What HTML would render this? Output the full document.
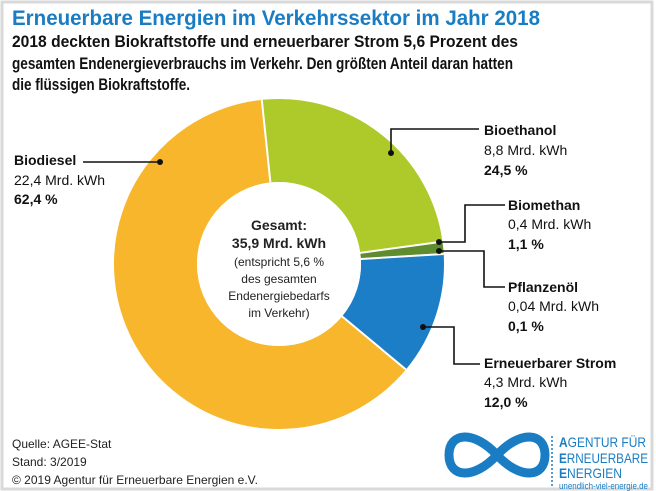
<!DOCTYPE html>
<html><head><meta charset="utf-8"><style>
html,body{margin:0;padding:0;background:#fff}
svg{display:block}
text{font-family:"Liberation Sans",sans-serif}
</style></head><body>
<svg width="656" height="491" viewBox="0 0 656 491" xmlns="http://www.w3.org/2000/svg">
<rect x="0" y="0" width="656" height="491" fill="#fff"/>
<rect x="2" y="2" width="650" height="487" fill="none" stroke="#d9d9d9" stroke-width="3"/>
<text x="12" y="25" font-size="21" font-weight="bold" fill="#1a7dc3" textLength="528" lengthAdjust="spacingAndGlyphs">Erneuerbare Energien im Verkehrssektor im Jahr 2018</text>
<g font-size="17" font-weight="bold" fill="#111">
<text x="12" y="47" textLength="506" lengthAdjust="spacingAndGlyphs">2018 deckten Biokraftstoffe und erneuerbarer Strom 5,6 Prozent des</text>
<text x="12" y="69" textLength="501" lengthAdjust="spacingAndGlyphs">gesamten Endenergieverbrauchs im Verkehr. Den größten Anteil daran hatten</text>
<text x="12" y="90" textLength="178" lengthAdjust="spacingAndGlyphs">die flüssigen Biokraftstoffe.</text>
</g>
<g fill="none" stroke-width="83">
<circle cx="279" cy="264" r="123.5" stroke="#f7b62b" stroke-dasharray="486 2000" transform="rotate(39.72 279 264)"/>
<circle cx="279" cy="264" r="123.5" stroke="#aec92a" stroke-dasharray="190.1 2000" transform="rotate(-96 279 264)"/>
<circle cx="279" cy="264" r="123.5" stroke="#5e8c2e" stroke-dasharray="8.6 2000" transform="rotate(-7.8 279 264)"/>
<circle cx="279" cy="264" r="123.5" stroke="#5e8c2e" stroke-dasharray="0.8 2000" transform="rotate(-3.84 279 264)"/>
<circle cx="279" cy="264" r="123.5" stroke="#1c7ec6" stroke-dasharray="93.1 2000" transform="rotate(-3.48 279 264)"/>
</g>
<g stroke="#fff" stroke-width="2">
<line x1="270.4" y1="182.4" x2="261.8" y2="99.9"/>
<line x1="360.2" y1="252.9" x2="442.5" y2="241.6"/>
<line x1="360.9" y1="259.0" x2="443.7" y2="254.0"/>
<line x1="342.1" y1="316.4" x2="405.9" y2="369.5"/>
</g>
<circle cx="279" cy="264" r="82" fill="#fff"/>
<g text-anchor="middle" fill="#222">
<text x="279" y="230" font-size="14" font-weight="bold">Gesamt:</text>
<text x="279" y="248" font-size="14" font-weight="bold">35,9 Mrd. kWh</text>
<text x="279" y="266" font-size="12">(entspricht 5,6 %</text>
<text x="279" y="283" font-size="12">des gesamten</text>
<text x="279" y="300" font-size="12">Endenergiebedarfs</text>
<text x="279" y="317" font-size="12">im Verkehr)</text>
</g>
<g stroke="#111" stroke-width="1.6" fill="none">
<polyline points="83,162 160,162"/>
<polyline points="479,129 391,129 391,153"/>
<polyline points="505,205 465,205 465,242 439,242"/>
<polyline points="505,287 484,287 484,251 439,251"/>
<polyline points="480,364 454,364 454,327 423,327"/>
</g>
<g fill="#111">
<circle cx="160" cy="162" r="3"/><circle cx="391" cy="153" r="3"/>
<circle cx="439" cy="242" r="3"/><circle cx="439" cy="251" r="3"/><circle cx="423" cy="327" r="3"/>
</g>
<g fill="#111" font-size="14">
<text x="14" y="165" font-weight="bold">Biodiesel</text>
<text x="14" y="185">22,4 Mrd. kWh</text>
<text x="14" y="204" font-weight="bold">62,4 %</text>
<text x="484" y="135" font-weight="bold">Bioethanol</text>
<text x="484" y="155">8,8 Mrd. kWh</text>
<text x="484" y="175" font-weight="bold">24,5 %</text>
<text x="508" y="210" font-weight="bold">Biomethan</text>
<text x="508" y="229">0,4 Mrd. kWh</text>
<text x="508" y="249" font-weight="bold">1,1 %</text>
<text x="508" y="292" font-weight="bold">Pflanzenöl</text>
<text x="508" y="311">0,04 Mrd. kWh</text>
<text x="508" y="331" font-weight="bold">0,1 %</text>
<text x="484" y="368" font-weight="bold">Erneuerbarer Strom</text>
<text x="484" y="387">4,3 Mrd. kWh</text>
<text x="484" y="407" font-weight="bold">12,0 %</text>
</g>
<g fill="#222" font-size="12">
<text x="12" y="448">Quelle: AGEE-Stat</text>
<text x="12" y="466">Stand: 3/2019</text>
<text x="12" y="484">© 2019 Agentur für Erneuerbare Energien e.V.</text>
</g>
<path d="M497,455 C520,430 545,432 545,455 C545,478 520,480 497,455 C474,430 449,432 449,455 C449,478 474,480 497,455 Z" fill="none" stroke="#1a7dc3" stroke-width="9"/>
<line x1="552" y1="436" x2="552" y2="488" stroke="#1a7dc3" stroke-width="1.5" stroke-dasharray="2 2"/>
<g fill="#1a7dc3" font-size="14">
<text x="559" y="447" textLength="87" lengthAdjust="spacingAndGlyphs"><tspan font-weight="bold">A</tspan>GENTUR FÜR</text>
<text x="559" y="463" textLength="89" lengthAdjust="spacingAndGlyphs"><tspan font-weight="bold">E</tspan>RNEUERBARE</text>
<text x="559" y="478" textLength="63" lengthAdjust="spacingAndGlyphs"><tspan font-weight="bold">E</tspan>NERGIEN</text>
<text x="559" y="489" font-size="9" textLength="89" lengthAdjust="spacingAndGlyphs">unendlich-viel-energie.de</text>
</g>
</svg>
</body></html>
